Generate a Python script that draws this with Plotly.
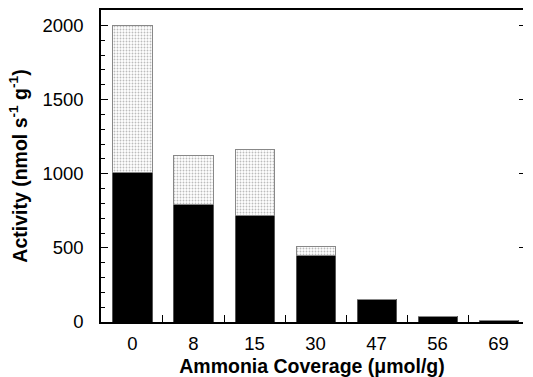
import plotly.graph_objects as go

coverage = ["0", "8", "15", "30", "47", "56", "69"]
activity_black = [1010, 790, 720, 450, 150, 35, 12]
activity_total = [2000, 1120, 1160, 510, 150, 35, 12]

stipple = [t - b for t, b in zip(activity_total, activity_black)]
xpos = list(range(len(coverage)))

fig = go.Figure()
fig.add_trace(go.Bar(
    x=xpos, y=activity_black, width=0.64,
    marker=dict(color="black", line=dict(color="#555", width=1)),
    showlegend=False,
))
fig.add_trace(go.Bar(
    x=xpos, y=stipple, width=0.64,
    marker=dict(color="white", line=dict(color="#888", width=1),
                pattern=dict(shape=".", fgcolor="#7a7a7a", bgcolor="white",
                             size=3, solidity=0.3)),
    showlegend=False,
))
fig.add_trace(go.Scatter(x=[0], y=[0], yaxis="y2", mode="markers",
                         marker=dict(opacity=0), showlegend=False, hoverinfo="skip"))

font = "Liberation Sans, Arial, Helvetica, sans-serif"
fig.update_layout(
    barmode="stack",
    width=533, height=377,
    margin=dict(l=101, r=10, t=10, b=55, autoexpand=False),
    plot_bgcolor="white", paper_bgcolor="white",
    font=dict(family=font, size=18.5, color="black"),
    xaxis=dict(
        range=[-0.516, 6.4], automargin=False,
        tickmode="array", tickvals=xpos, ticktext=coverage,
        ticks="", showgrid=False, zeroline=False,
        showline=True, linecolor="black", linewidth=1.5, mirror=True,
        minor=dict(tickmode="array", tickvals=[0.5, 1.5, 2.5, 3.5, 4.5, 5.5],
                   ticks="inside", ticklen=7, tickcolor="black", tickwidth=1.2),
        ticklabelstandoff=4,
        title=dict(text="<b>Ammonia Coverage (μmol/g)</b>", font=dict(size=19.5), standoff=6),
    ),
    yaxis=dict(
        range=[0, 2104], automargin=False,
        tickmode="array", tickvals=[0, 500, 1000, 1500, 2000],
        ticks="inside", ticklen=7, tickcolor="black", tickwidth=1.2,
        minor=dict(dtick=100, ticks="inside", ticklen=4, tickcolor="black", tickwidth=1),
        showgrid=False, zeroline=False,
        showline=True, linecolor="black", linewidth=1.5,
        ticklabelstandoff=12,
        title=dict(text="<b>Activity (nmol s<sup>-1</sup> g<sup>-1</sup>)</b>",
                   font=dict(size=19.5), standoff=10),
    ),
    yaxis2=dict(
        overlaying="y", side="right", matches="y", range=[0, 2104],
        tickmode="array", tickvals=[500, 1000, 1500, 2000],
        ticks="inside", ticklen=4, tickcolor="black",
        showticklabels=False, showline=False, showgrid=False, zeroline=False,
    ),
)

fig.write_html("out.html")
